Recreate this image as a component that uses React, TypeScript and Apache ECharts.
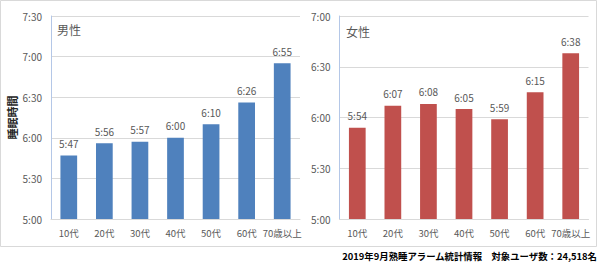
import React, { useEffect, useRef } from "react";
import * as echarts from "echarts";

const categories = ["10代", "20代", "30代", "40代", "50代", "60代", "70歳以上"];
// sleep time in minutes (e.g. 5:47 -> 347)
const maleMinutes = [347, 356, 357, 360, 370, 386, 415];
const femaleMinutes = [354, 367, 368, 365, 359, 375, 398];
const maleTitle = "男性";
const femaleTitle = "女性";
const yAxisName = "睡眠時間";
const caption = "2019年9月熟睡アラーム統計情報　対象ユーザ数：24,518名";
const maleAxis = { min: 300, max: 450, interval: 30 };
const femaleAxis = { min: 300, max: 420, interval: 30 };

const fmt = (v: number) => {
  const h = Math.floor(v / 60);
  const m = Math.round(v - h * 60);
  return `${h}:${String(m).padStart(2, "0")}`;
};

const FONT = '"Noto Sans CJK JP", "Noto Sans", sans-serif';
const GRAY = "#595959";

export default function App() {
  const ref = useRef<HTMLDivElement>(null);
  useEffect(() => {
    if (!ref.current) return;
    const chart = echarts.init(ref.current, undefined, { renderer: "svg" });
    const xAxisBase = {
      type: "category" as const,
      data: categories,
      axisLine: { show: true, lineStyle: { color: "#d9d9d9", width: 1 } },
      axisTick: { show: false },
      axisLabel: { color: GRAY, fontSize: 9.5, margin: 9, interval: 0, fontFamily: FONT, hideOverlap: false },
    };
    const yAxisBase = {
      type: "value" as const,
      axisLine: { show: true, lineStyle: { color: "#b4c7e7", width: 1 } },
      axisTick: { show: false },
      axisLabel: { color: GRAY, fontSize: 10, margin: 9, fontFamily: FONT, formatter: (v: number) => fmt(v) },
      splitLine: { show: true, lineStyle: { color: "#d9d9d9", width: 1 } },
    };
    const labelBase = {
      show: true,
      position: "top" as const,
      distance: 7,
      color: GRAY,
      fontSize: 10,
      fontFamily: FONT,
      formatter: (p: any) => fmt(p.value),
    };
    chart.setOption({
      animation: false,
      textStyle: { fontFamily: FONT },
      grid: [
        { left: 51, top: 16, width: 249, height: 203 },
        { left: 339.5, top: 16, width: 249, height: 203 },
      ],
      xAxis: [
        { ...xAxisBase, gridIndex: 0 },
        { ...xAxisBase, gridIndex: 1 },
      ],
      yAxis: [
        {
          ...yAxisBase,
          gridIndex: 0,
          ...maleAxis,
          name: yAxisName,
          nameLocation: "middle",
          nameGap: 34,
          nameTextStyle: { fontSize: 11, fontWeight: "bold", color: "#262626", fontFamily: FONT },
        },
        { ...yAxisBase, gridIndex: 1, ...femaleAxis },
      ],
      series: [
        {
          type: "bar",
          xAxisIndex: 0,
          yAxisIndex: 0,
          data: maleMinutes,
          barWidth: "47%",
          itemStyle: { color: "#4f81bd" },
          label: labelBase,
        },
        {
          type: "bar",
          xAxisIndex: 1,
          yAxisIndex: 1,
          data: femaleMinutes,
          barWidth: "47%",
          itemStyle: { color: "#c0504d" },
          label: labelBase,
        },
      ],
      graphic: [
        {
          type: "rect",
          z: -10,
          shape: { x: 0.5, y: 0.5, width: 596, height: 246 },
          style: { fill: "none", stroke: "#d9d9d9", lineWidth: 1 },
        },
        {
          type: "text",
          x: 57,
          y: 29,
          style: { text: maleTitle, fontSize: 12, fontFamily: FONT, fill: GRAY, align: "left", verticalAlign: "middle" },
        },
        {
          type: "text",
          x: 346,
          y: 31,
          style: { text: femaleTitle, fontSize: 12, fontFamily: FONT, fill: GRAY, align: "left", verticalAlign: "middle" },
        },
        {
          type: "text",
          x: 597,
          y: 256,
          style: {
            text: caption,
            fontSize: 9.4,
            fontWeight: "bold",
            fontFamily: FONT,
            fill: "#000000",
            align: "right",
            verticalAlign: "middle",
          },
        },
      ],
    });
    return () => chart.dispose();
  }, []);
  return <div ref={ref} style={{ position: "absolute", left: 0, top: 0, width: 600, height: 264, background: "#fff" }} />;
}
